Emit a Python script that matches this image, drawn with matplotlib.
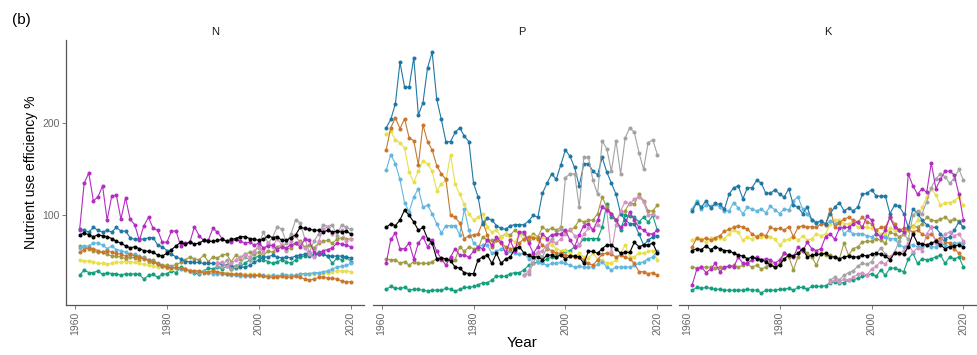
import numpy as np
import matplotlib.pyplot as plt

plt.rcParams['font.family'] = ['Liberation Sans', 'DejaVu Sans']

years = np.arange(1961, 2021)
years_late = np.arange(1991, 2021)
panel_titles = ['N', 'P', 'K']

# --- N ---
n_magenta = [84, 135, 146, 116, 120, 132, 95, 121, 122, 96, 119, 96, 90, 73, 89, 98, 86, 84, 71, 71,
             83, 83, 67, 70, 71, 88, 78, 73, 73, 86, 82, 75, 72, 71, 74, 72, 70, 71, 68, 70,
             65, 67, 68, 63, 66, 65, 68, 70, 66, 74, 73, 60, 58, 62, 63, 65, 70, 69, 68, 66]
n_black = [79, 81, 79, 77, 79, 78, 77, 75, 72, 70, 67, 65, 66, 64, 62, 61, 60, 57, 56, 59,
           63, 67, 71, 69, 71, 69, 70, 73, 72, 72, 73, 74, 72, 74, 75, 77, 77, 75, 74, 73,
           74, 78, 76, 77, 73, 73, 76, 79, 87, 86, 85, 84, 84, 82, 84, 82, 83, 82, 83, 80]
n_blue = [85, 84, 82, 87, 84, 82, 84, 82, 87, 83, 83, 76, 74, 75, 74, 76, 76, 68, 66, 62,
          58, 55, 53, 50, 50, 49, 49, 48, 48, 48, 48, 47, 46, 45, 45, 44, 44, 46, 49, 52,
          55, 55, 57, 55, 54, 55, 54, 56, 57, 58, 56, 57, 58, 58, 56, 56, 56, 56, 55, 54]
n_sky = [65, 67, 67, 70, 70, 68, 64, 67, 63, 62, 60, 58, 58, 56, 54, 52, 50, 47, 45, 44,
         44, 43, 42, 41, 40, 39, 38, 40, 38, 37, 37, 36, 36, 35, 35, 34, 34, 34, 34, 35,
         35, 34, 35, 34, 36, 35, 35, 35, 37, 37, 37, 38, 38, 39, 40, 42, 44, 45, 46, 48]
n_orange = [60, 63, 65, 64, 62, 60, 62, 60, 59, 58, 56, 58, 56, 55, 53, 52, 50, 47, 45, 44,
            43, 44, 43, 42, 40, 40, 40, 38, 39, 40, 39, 38, 37, 37, 36, 36, 35, 35, 35, 35,
            34, 33, 33, 33, 34, 33, 33, 34, 33, 31, 30, 31, 33, 33, 32, 32, 31, 29, 28, 28]
n_yellow = [52, 51, 51, 50, 48, 48, 47, 48, 50, 49, 50, 50, 49, 48, 47, 46, 45, 44, 44, 43,
            42, 43, 42, 41, 41, 40, 40, 40, 39, 39, 38, 38, 38, 37, 37, 37, 36, 36, 36, 36,
            35, 35, 35, 34, 34, 34, 35, 35, 36, 36, 36, 37, 37, 38, 38, 39, 40, 40, 40, 39]
n_green = [35, 41, 38, 38, 40, 36, 38, 37, 37, 35, 37, 36, 37, 36, 31, 35, 36, 33, 36, 37,
           40, 38, 44, 42, 40, 38, 36, 40, 43, 42, 44, 42, 45, 42, 43, 45, 48, 52, 54, 56,
           52, 50, 48, 50, 52, 50, 48, 52, 55, 56, 60, 56, 60, 58, 56, 48, 54, 52, 55, 50]
n_olive = [67, 66, 64, 62, 60, 60, 58, 56, 56, 55, 53, 55, 54, 52, 55, 50, 52, 48, 46, 46,
           45, 47, 49, 52, 55, 53, 52, 57, 50, 55, 54, 57, 58, 50, 57, 53, 58, 60, 58, 60,
           56, 62, 60, 66, 68, 63, 65, 70, 72, 66, 68, 65, 70, 72, 73, 70, 74, 76, 75, 74]
n_gray = [45, 44, 52, 42, 45, 48, 55, 52, 60, 68, 82, 70, 76, 88, 85, 70, 80, 95, 92, 75,
          60, 72, 80, 90, 88, 90, 78, 90, 87, 85]
n_pink = [48, 50, 45, 48, 52, 55, 58, 55, 62, 65, 60, 70, 66, 75, 68, 62, 72, 78, 70, 65,
          58, 55, 72, 85, 88, 80, 82, 84, 72, 75]

# --- P ---
p_magenta = [48, 74, 81, 64, 64, 70, 53, 70, 77, 66, 73, 61, 53, 46, 55, 64, 57, 57, 55, 61,
             66, 64, 73, 68, 77, 71, 59, 73, 61, 82, 82, 70, 59, 66, 80, 75, 79, 80, 80, 84,
             73, 66, 79, 89, 91, 84, 95, 109, 106, 102, 95, 87, 91, 104, 95, 87, 84, 80, 80, 84]
p_black = [87, 91, 89, 95, 106, 100, 93, 84, 87, 75, 70, 53, 54, 53, 51, 44, 43, 38, 37, 37,
           52, 55, 57, 48, 59, 48, 53, 55, 64, 66, 59, 57, 55, 55, 52, 57, 57, 55, 57, 53,
           56, 56, 55, 48, 61, 61, 59, 64, 68, 68, 64, 59, 60, 60, 71, 66, 68, 68, 70, 59]
p_blue = [195, 204, 221, 266, 239, 239, 271, 209, 222, 260, 277, 226, 204, 180, 180, 190, 195, 186, 180, 135,
          120, 91, 97, 95, 89, 86, 85, 89, 90, 90, 90, 94, 100, 98, 124, 135, 145, 139, 155, 171,
          164, 152, 132, 156, 156, 148, 144, 163, 147, 135, 123, 102, 95, 91, 91, 80, 68, 73, 77, 78]
p_sky = [149, 166, 156, 139, 114, 104, 120, 129, 109, 111, 102, 91, 81, 89, 89, 89, 79, 107, 84, 70,
         66, 68, 68, 59, 61, 64, 61, 61, 59, 58, 59, 53, 55, 50, 48, 46, 48, 48, 49, 48,
         46, 44, 45, 44, 44, 44, 47, 50, 44, 41, 44, 44, 44, 44, 46, 48, 50, 53, 55, 61]
p_orange = [171, 195, 206, 194, 205, 184, 181, 155, 198, 180, 171, 154, 145, 139, 100, 98, 92, 75, 78, 79,
            80, 93, 79, 66, 73, 70, 66, 64, 65, 70, 75, 77, 76, 75, 68, 64, 62, 59, 59, 57,
            56, 55, 55, 52, 48, 46, 52, 58, 59, 58, 55, 57, 55, 53, 48, 39, 39, 37, 38, 35]
p_yellow = [188, 191, 182, 179, 173, 147, 136, 148, 159, 156, 148, 127, 134, 138, 166, 134, 123, 112, 102, 95,
            98, 102, 87, 82, 84, 77, 80, 75, 71, 80, 73, 77, 78, 73, 77, 73, 68, 64, 62, 63,
            59, 55, 59, 55, 54, 59, 53, 52, 48, 48, 52, 59, 68, 55, 55, 59, 59, 61, 62, 52]
p_green = [20, 23, 21, 21, 22, 19, 20, 20, 19, 18, 19, 19, 19, 21, 20, 18, 20, 22, 22, 23,
           25, 27, 27, 30, 34, 34, 34, 37, 38, 38, 41, 46, 48, 50, 50, 53, 55, 55, 59, 61,
           62, 66, 68, 75, 75, 75, 75, 87, 112, 98, 95, 84, 100, 99, 98, 93, 98, 93, 100, 84]
p_olive = [53, 52, 52, 48, 50, 46, 50, 48, 48, 48, 50, 53, 52, 52, 53, 52, 66, 61, 66, 64,
           64, 77, 73, 73, 73, 77, 80, 79, 84, 80, 80, 73, 80, 77, 87, 84, 86, 84, 87, 82,
           84, 87, 95, 93, 95, 95, 102, 120, 109, 102, 95, 102, 105, 114, 112, 123, 116, 105, 105, 111]
p_gray = [35, 37, 48, 60, 55, 65, 75, 80, 85, 141, 145, 145, 109, 163, 163, 138, 123, 181, 172, 148,
          181, 145, 184, 195, 190, 168, 150, 179, 182, 166]
p_pink = [35, 40, 55, 60, 62, 68, 72, 70, 75, 80, 85, 78, 68, 80, 86, 85, 90, 110, 105, 60,
          90, 105, 115, 112, 118, 120, 115, 100, 102, 98]

# --- K ---
k_magenta = [25, 42, 44, 38, 42, 48, 39, 44, 45, 44, 55, 48, 48, 52, 55, 52, 53, 52, 48, 52,
             59, 57, 55, 66, 61, 71, 64, 62, 64, 77, 80, 74, 86, 87, 87, 91, 93, 87, 99, 95,
             80, 77, 84, 98, 87, 84, 82, 145, 132, 123, 129, 125, 157, 129, 139, 148, 148, 144, 123, 95]
k_black = [62, 64, 63, 67, 63, 66, 64, 62, 62, 59, 57, 56, 53, 55, 53, 52, 50, 46, 44, 46,
           53, 57, 56, 59, 64, 55, 57, 58, 58, 59, 55, 55, 53, 55, 56, 55, 55, 57, 56, 58,
           59, 58, 56, 52, 59, 59, 58, 66, 80, 70, 69, 68, 70, 72, 68, 64, 66, 67, 68, 66]
k_blue = [105, 114, 109, 116, 108, 113, 112, 107, 123, 130, 132, 118, 130, 130, 138, 135, 124, 124, 128, 123,
          120, 129, 111, 109, 102, 109, 95, 92, 94, 91, 102, 109, 114, 105, 108, 105, 109, 123, 124, 128,
          121, 121, 121, 102, 111, 110, 102, 87, 107, 102, 95, 90, 87, 87, 80, 75, 77, 84, 93, 87]
k_sky = [107, 116, 107, 111, 110, 112, 109, 105, 105, 114, 108, 102, 109, 107, 105, 107, 103, 110, 106, 102,
         107, 106, 116, 120, 107, 102, 95, 93, 94, 90, 94, 91, 93, 80, 84, 80, 80, 80, 78, 77,
         80, 78, 77, 75, 75, 68, 66, 68, 68, 66, 66, 68, 66, 66, 70, 68, 66, 70, 70, 70]
k_orange = [66, 76, 73, 76, 73, 76, 78, 83, 85, 87, 89, 87, 85, 80, 77, 80, 78, 87, 85, 86,
            84, 88, 77, 87, 89, 87, 88, 87, 91, 90, 107, 87, 92, 96, 98, 95, 93, 98, 93, 91,
            84, 87, 87, 98, 91, 84, 86, 85, 82, 84, 80, 77, 80, 73, 76, 71, 70, 64, 59, 54]
k_yellow = [73, 76, 74, 71, 76, 74, 76, 75, 80, 84, 82, 73, 77, 74, 78, 77, 77, 77, 74, 68,
            73, 74, 78, 73, 78, 73, 75, 80, 78, 80, 91, 95, 95, 91, 91, 93, 87, 88, 87, 86,
            84, 80, 80, 86, 84, 84, 84, 84, 87, 95, 109, 120, 129, 122, 111, 114, 114, 116, 120, 111]
k_green = [19, 22, 21, 22, 21, 20, 20, 19, 19, 19, 19, 19, 20, 19, 19, 16, 19, 19, 19, 20,
           20, 21, 19, 22, 22, 20, 23, 23, 23, 24, 27, 28, 27, 27, 30, 30, 32, 34, 35, 37,
           34, 41, 35, 43, 43, 41, 39, 53, 59, 48, 53, 52, 53, 55, 57, 48, 55, 53, 55, 44]
k_olive = [44, 43, 44, 44, 44, 43, 44, 43, 45, 46, 44, 46, 47, 44, 46, 42, 44, 48, 44, 48,
           59, 55, 41, 55, 64, 59, 55, 46, 59, 57, 57, 55, 53, 70, 57, 64, 66, 71, 72, 72,
           75, 73, 70, 82, 80, 77, 80, 84, 89, 87, 91, 98, 95, 94, 96, 98, 94, 96, 94, 87]
k_gray = [30, 33, 30, 35, 38, 40, 45, 48, 47, 50, 58, 65, 58, 55, 60, 72, 80, 74, 100, 105,
          102, 115, 130, 140, 145, 142, 135, 140, 150, 138]
k_pink = [28, 30, 28, 31, 30, 33, 36, 38, 35, 42, 45, 50, 47, 55, 60, 58, 62, 70, 60, 65,
          62, 80, 88, 70, 72, 80, 82, 78, 80, 72]

colors = {
    'green': '#14a07f', 'olive': '#a09c42', 'yellow': '#e9df4c', 'sky': '#62b6e0',
    'orange': '#c9772e', 'blue': '#1f78a4', 'gray': '#a3a3a3', 'pink': '#d492c4',
    'magenta': '#b42cc2', 'black': '#000000',
}

panels = [
    [('green', n_green), ('olive', n_olive), ('yellow', n_yellow), ('sky', n_sky),
     ('orange', n_orange), ('blue', n_blue), ('gray', n_gray), ('pink', n_pink),
     ('magenta', n_magenta), ('black', n_black)],
    [('green', p_green), ('olive', p_olive), ('yellow', p_yellow), ('sky', p_sky),
     ('orange', p_orange), ('blue', p_blue), ('gray', p_gray), ('pink', p_pink),
     ('magenta', p_magenta), ('black', p_black)],
    [('green', k_green), ('olive', k_olive), ('yellow', k_yellow), ('sky', k_sky),
     ('orange', k_orange), ('blue', k_blue), ('gray', k_gray), ('pink', k_pink),
     ('magenta', k_magenta), ('black', k_black)],
]

fig = plt.figure(figsize=(9.78, 3.55), dpi=100)
lefts = [0.0675, 0.381, 0.694]
axes = []
for i, left in enumerate(lefts):
    ax = fig.add_axes([left, 0.141, 0.305, 0.746])
    for name, vals in panels[i]:
        x = years if len(vals) == len(years) else years_late
        ax.plot(x, vals, color=colors[name], lw=0.8, marker='o', ms=2.9,
                markeredgewidth=0)
    ax.set_xlim(1958.05, 2022.95)
    ax.set_ylim(3, 290)
    ax.set_xticks([1960, 1980, 2000, 2020])
    ax.set_yticks([100, 200])
    ax.tick_params(axis='x', labelrotation=90, labelsize=7.5, colors='#666666',
                   length=3, width=0.6, pad=2)
    ax.tick_params(axis='y', labelsize=7.5, colors='#666666', length=3, width=0.6, pad=1.5)
    for side in ['top', 'right']:
        ax.spines[side].set_visible(False)
    ax.spines['bottom'].set_color('#555555')
    ax.spines['left'].set_color('#555555')
    ax.spines['bottom'].set_linewidth(0.9)
    ax.spines['left'].set_linewidth(0.9)
    if i > 0:
        ax.spines['left'].set_visible(False)
        ax.tick_params(axis='y', left=False, labelleft=False)
    ax.set_title(panel_titles[i], fontsize=8, pad=4, color='#1a1a1a')
    axes.append(ax)

axes[0].set_ylabel('Nutrient use efficiency %', fontsize=10, labelpad=3)
fig.text(0.534, 0.035, 'Year', ha='center', va='center', fontsize=11)
fig.text(0.012, 0.945, '(b)', ha='left', va='center', fontsize=11)

fig.savefig('out.png', dpi=100)
